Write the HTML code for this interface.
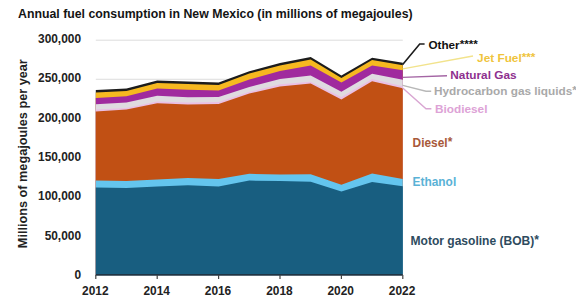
<!DOCTYPE html>
<html><head><meta charset="utf-8"><style>
html,body{margin:0;padding:0;background:#fff;}
body{width:576px;height:304px;position:relative;overflow:hidden;font-family:"Liberation Sans",sans-serif;}
.t{position:absolute;white-space:nowrap;font-weight:bold;line-height:1;}
.yl{right:495px;text-align:right;color:#222;}
.xl{width:60px;text-align:center;color:#222;}
svg{position:absolute;left:0;top:0;}
.a{position:relative;top:-1px;}
</style></head><body>
<div class="t" style="left:17.6px;top:7.11px;font-size:13.1px;color:#141414;transform-origin:0 0;transform:scaleX(0.9400)">Annual fuel consumption in New Mexico (in millions of megajoules)</div>
<svg width="576" height="304" viewBox="0 0 576 304">
<line x1="95.8" x2="402.8" y1="40.20" y2="40.20" stroke="#dcdcdc" stroke-width="1"/>
<line x1="95.8" x2="402.8" y1="79.25" y2="79.25" stroke="#dcdcdc" stroke-width="1"/>
<line x1="95.8" x2="402.8" y1="118.30" y2="118.30" stroke="#dcdcdc" stroke-width="1"/>
<line x1="95.8" x2="402.8" y1="157.35" y2="157.35" stroke="#dcdcdc" stroke-width="1"/>
<line x1="95.8" x2="402.8" y1="196.40" y2="196.40" stroke="#dcdcdc" stroke-width="1"/>
<line x1="95.8" x2="402.8" y1="235.45" y2="235.45" stroke="#dcdcdc" stroke-width="1"/>
<polygon points="95.80,90.00 126.50,88.50 157.20,80.60 187.90,81.60 218.60,82.50 249.30,71.20 280.00,63.00 310.70,57.00 341.40,75.60 372.10,57.70 402.80,62.80 402.80,274.20 372.10,274.20 341.40,274.20 310.70,274.20 280.00,274.20 249.30,274.20 218.60,274.20 187.90,274.20 157.20,274.20 126.50,274.20 95.80,274.20" fill="#1c1c1c"/>
<polygon points="95.80,92.40 126.50,90.90 157.20,83.00 187.90,84.00 218.60,84.90 249.30,73.60 280.00,65.40 310.70,59.40 341.40,78.00 372.10,60.10 402.80,65.20 402.80,274.20 372.10,274.20 341.40,274.20 310.70,274.20 280.00,274.20 249.30,274.20 218.60,274.20 187.90,274.20 157.20,274.20 126.50,274.20 95.80,274.20" fill="#F6B820"/>
<polygon points="95.80,98.00 126.50,96.20 157.20,88.50 187.90,89.80 218.60,90.60 249.30,79.60 280.00,71.00 310.70,65.50 341.40,82.40 372.10,65.60 402.80,70.20 402.80,274.20 372.10,274.20 341.40,274.20 310.70,274.20 280.00,274.20 249.30,274.20 218.60,274.20 187.90,274.20 157.20,274.20 126.50,274.20 95.80,274.20" fill="#A02A9E"/>
<polygon points="95.80,104.20 126.50,102.40 157.20,95.80 187.90,97.20 218.60,97.00 249.30,86.90 280.00,78.90 310.70,75.60 341.40,91.80 372.10,73.80 402.80,79.80 402.80,274.20 372.10,274.20 341.40,274.20 310.70,274.20 280.00,274.20 249.30,274.20 218.60,274.20 187.90,274.20 157.20,274.20 126.50,274.20 95.80,274.20" fill="#DFDBE0"/>
<polygon points="95.80,109.60 126.50,108.00 157.20,101.60 187.90,102.40 218.60,102.00 249.30,91.80 280.00,84.30 310.70,81.80 341.40,97.00 372.10,79.00 402.80,86.20 402.80,274.20 372.10,274.20 341.40,274.20 310.70,274.20 280.00,274.20 249.30,274.20 218.60,274.20 187.90,274.20 157.20,274.20 126.50,274.20 95.80,274.20" fill="#EAC0E4"/>
<polygon points="95.80,111.40 126.50,109.60 157.20,103.30 187.90,104.40 218.60,104.00 249.30,93.50 280.00,86.50 310.70,83.40 341.40,99.60 372.10,81.20 402.80,88.30 402.80,274.20 372.10,274.20 341.40,274.20 310.70,274.20 280.00,274.20 249.30,274.20 218.60,274.20 187.90,274.20 157.20,274.20 126.50,274.20 95.80,274.20" fill="#C15014"/>
<polygon points="95.80,180.40 126.50,181.00 157.20,179.50 187.90,178.10 218.60,179.10 249.30,173.80 280.00,174.50 310.70,174.30 341.40,184.70 372.10,173.40 402.80,179.10 402.80,274.20 372.10,274.20 341.40,274.20 310.70,274.20 280.00,274.20 249.30,274.20 218.60,274.20 187.90,274.20 157.20,274.20 126.50,274.20 95.80,274.20" fill="#64C5EE"/>
<polygon points="95.80,187.50 126.50,188.00 157.20,186.60 187.90,185.20 218.60,186.40 249.30,180.60 280.00,181.10 310.70,181.80 341.40,191.60 372.10,182.00 402.80,186.20 402.80,274.20 372.10,274.20 341.40,274.20 310.70,274.20 280.00,274.20 249.30,274.20 218.60,274.20 187.90,274.20 157.20,274.20 126.50,274.20 95.80,274.20" fill="#185E80"/>
<line x1="95.6" x2="402.8" y1="274.8" y2="274.8" stroke="#1f3444" stroke-width="1.8"/>
<line x1="95.80" x2="95.80" y1="275" y2="279" stroke="#444" stroke-width="1.2"/>
<line x1="157.20" x2="157.20" y1="275" y2="279" stroke="#444" stroke-width="1.2"/>
<line x1="218.60" x2="218.60" y1="275" y2="279" stroke="#444" stroke-width="1.2"/>
<line x1="280.00" x2="280.00" y1="275" y2="279" stroke="#444" stroke-width="1.2"/>
<line x1="341.40" x2="341.40" y1="275" y2="279" stroke="#444" stroke-width="1.2"/>
<line x1="402.80" x2="402.80" y1="275" y2="279" stroke="#444" stroke-width="1.2"/>
<polyline points="402.7,64.6 419.7,44 424.6,44" fill="none" stroke="#1c1c1c" stroke-width="1.6"/>
<polyline points="402.7,68.9 473,56" fill="none" stroke="#F2E38C" stroke-width="1.4"/>
<polyline points="402.7,77.4 447,75.7" fill="none" stroke="#A465A4" stroke-width="1.4"/>
<polyline points="402.7,85.4 426,91.3 431.2,91.3" fill="none" stroke="#B8B8B8" stroke-width="1.4"/>
<polyline points="402.7,88 426,108.7 431.4,108.7" fill="none" stroke="#D9A6D2" stroke-width="1.4"/>
</svg>
<div class="t yl" style="top:34.13px;font-size:11.9px">300,000</div>
<div class="t yl" style="top:73.41px;font-size:11.9px">250,000</div>
<div class="t yl" style="top:112.69px;font-size:11.9px">200,000</div>
<div class="t yl" style="top:151.97px;font-size:11.9px">150,000</div>
<div class="t yl" style="top:191.25px;font-size:11.9px">100,000</div>
<div class="t yl" style="top:230.53px;font-size:11.9px">50,000</div>
<div class="t yl" style="top:269.81px;font-size:11.9px">0</div>
<div class="t xl" style="left:65.3px;top:286.23px;font-size:11.9px">2012</div>
<div class="t xl" style="left:126.7px;top:286.23px;font-size:11.9px">2014</div>
<div class="t xl" style="left:188.0px;top:286.23px;font-size:11.9px">2016</div>
<div class="t xl" style="left:249.4px;top:286.23px;font-size:11.9px">2018</div>
<div class="t xl" style="left:310.7px;top:286.23px;font-size:11.9px">2020</div>
<div class="t xl" style="left:372.1px;top:286.23px;font-size:11.9px">2022</div>
<div class="t" style="left:0;top:0;font-size:12.7px;color:#222;transform-origin:0 0;transform:translate(17.25px,248.19px) rotate(-90deg)">Millions of megajoules per year</div>
<div class="t" style="left:428.5px;top:39.20px;font-size:11.7px;color:#111;">Other<span class=a>****</span></div>
<div class="t" style="left:477.1px;top:52.81px;font-size:11.8px;color:#EFC43C;">Jet Fuel<span class=a>***</span></div>
<div class="t" style="left:450.3px;top:69.71px;font-size:11.8px;color:#8E2F8E;">Natural Gas</div>
<div class="t" style="left:434.0px;top:85.81px;font-size:11.8px;color:#A9A9A9;">Hydrocarbon gas liquids<span class=a>*</span></div>
<div class="t" style="left:435.0px;top:103.81px;font-size:11.8px;color:#DDA2D6;">Biodiesel</div>
<div class="t" style="left:412.6px;top:138.23px;font-size:11.9px;color:#A8593A;">Diesel<span class=a>*</span></div>
<div class="t" style="left:412.6px;top:177.23px;font-size:11.9px;color:#5AB2D6;">Ethanol</div>
<div class="t" style="left:410.5px;top:234.80px;font-size:12.05px;color:#2E4B5E;">Motor gasoline (BOB)<span class=a>*</span></div>
</body></html>
